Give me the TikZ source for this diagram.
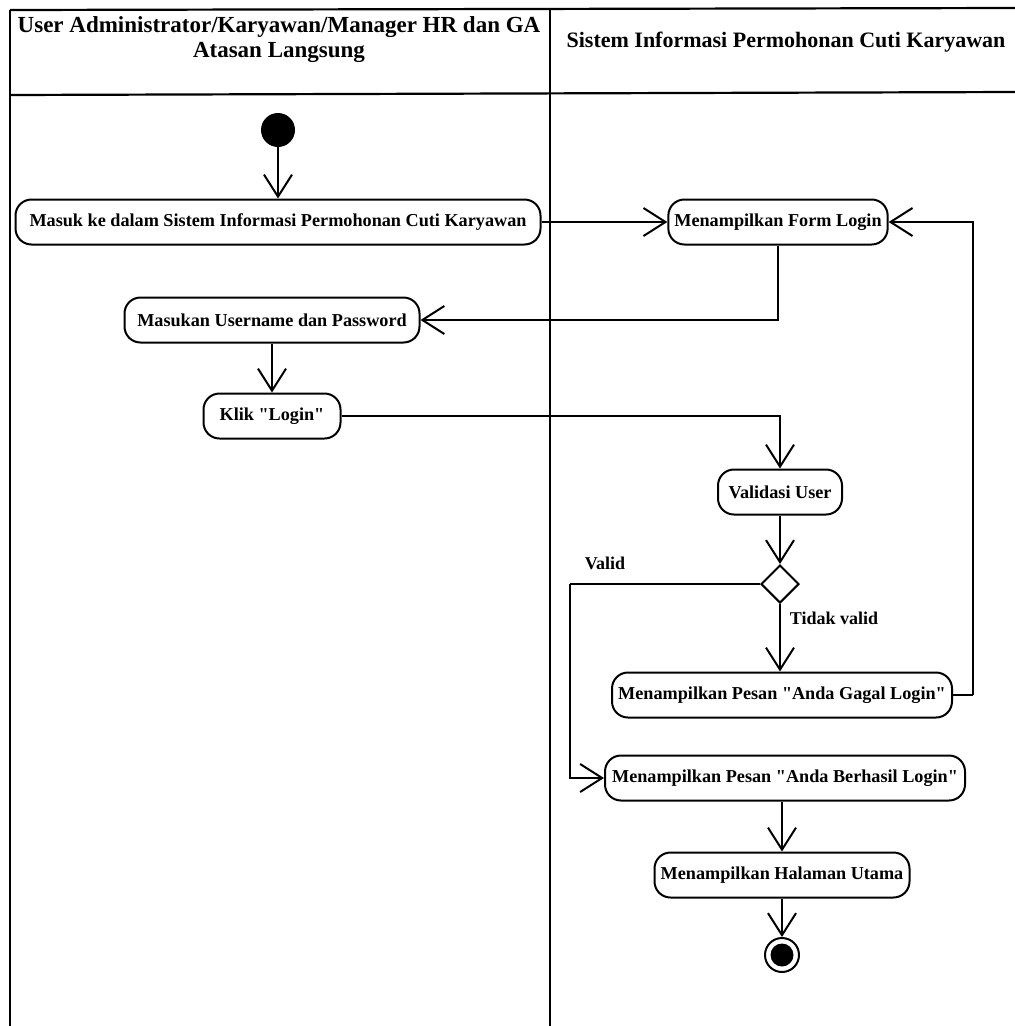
\documentclass[tikz,border=0pt]{standalone}
\usepackage{fontspec}
\setmainfont{Liberation Serif}
\usetikzlibrary{arrows.meta,positioning,shapes.geometric}
\tikzset{
  actbox/.style={draw=black,fill=white,rounded corners=16pt,line width=2pt,
                 minimum height=45pt,inner xsep=6pt,align=center,
                 font=\fontsize{18.2}{20}\selectfont\bfseries},
  lanetitle/.style={align=center,font=\fontsize{23}{25}\selectfont\bfseries},
  guardlbl/.style={font=\fontsize{18}{20}\selectfont\bfseries},
  lanerule/.style={line width=2.2pt},
  flowarr/.style={-{Straight Barb[length=22pt,width=28pt,line width=2pt]},line width=2pt},
  plainarr/.style={line width=2pt}
}
\newcommand{\qt}{\textquotedbl}
\begin{document}
\begin{tikzpicture}[x=1pt,y=-1pt]
  \useasboundingbox (0,0) rectangle (1015,1026);
  % swimlanes
  \draw[lanerule] (10,10) -- (1015,8);
  \draw[lanerule] (10,95) -- (1015,92);
  \draw[lanerule] (10,10) -- (10,1026);
  \draw[lanerule] (550,9) -- (550,1026);
  \node[lanetitle] (userlane) at (279,40) {User Administrator/Karyawan/Manager HR dan GA\\Atasan Langsung};
  \node[lanetitle,font=\fontsize{22}{25}\selectfont\bfseries] (syslane) at (786,42) {Sistem Informasi Permohonan Cuti Karyawan};

  % activities
  \node[circle,fill=black,minimum size=34pt,inner sep=0pt] (start) at (278,130) {};
  \node[actbox,minimum width=525pt] (masuk) at (278,222) {Masuk ke dalam Sistem Informasi Permohonan Cuti Karyawan};
  \node[actbox,minimum width=218pt] (form) at (778,222) {Menampilkan Form Login};
  \node[actbox,minimum width=295pt] (masukan) at (272,320) {Masukan Username dan Password};
  \node[actbox,minimum width=137pt] (klik) at (272,416) {Klik \qt Login\qt};
  \node[actbox,minimum width=124pt] (validasi) at (780,492) {Validasi User};
  \node[diamond,draw=black,line width=2pt,minimum size=38pt,inner sep=0pt] (cek) at (780,584) {};
  \node[actbox,minimum width=340pt] (gagal) at (782,695) {Menampilkan Pesan \qt Anda Gagal Login\qt};
  \node[actbox,minimum width=360pt] (berhasil) at (785,778) {Menampilkan Pesan \qt Anda Berhasil Login\qt};
  \node[actbox,minimum width=255pt] (utama) at (782,875) {Menampilkan Halaman Utama};
  \node[circle,draw=black,line width=2pt,minimum size=34pt,inner sep=0pt] (stop) at (782,955) {};
  \node[circle,fill=black,minimum size=23pt,inner sep=0pt] (stopdot) at (stop.center) {};

  \node[guardlbl] (validlbl) at (605,563) {Valid};
  \node[guardlbl] (tidaklbl) at (834,618) {Tidak valid};

  \coordinate (validturn) at (570,584);
  \coordinate (retryturn) at (973,695);

  % flows
  \draw[flowarr] (start) -- (masuk);
  \draw[flowarr] (masuk) -- (form);
  \draw[flowarr] (form.south) |- (masukan.east);
  \draw[flowarr] (masukan) -- (klik);
  \draw[flowarr] (klik.east) -| (validasi.north);
  \draw[flowarr] (validasi) -- (cek);
  \draw[flowarr] (cek.south) -- (cek.south |- gagal.north);
  \draw[plainarr] (cek.west) -- (validturn);
  \draw[flowarr] (validturn) |- (berhasil.west);
  \draw[plainarr] (gagal.east) -- (retryturn);
  \draw[flowarr] (retryturn) |- (form.east);
  \draw[flowarr] (berhasil.south -| utama.north) -- (utama.north);
  \draw[flowarr] (utama) -- (stop);
\end{tikzpicture}
\end{document}
